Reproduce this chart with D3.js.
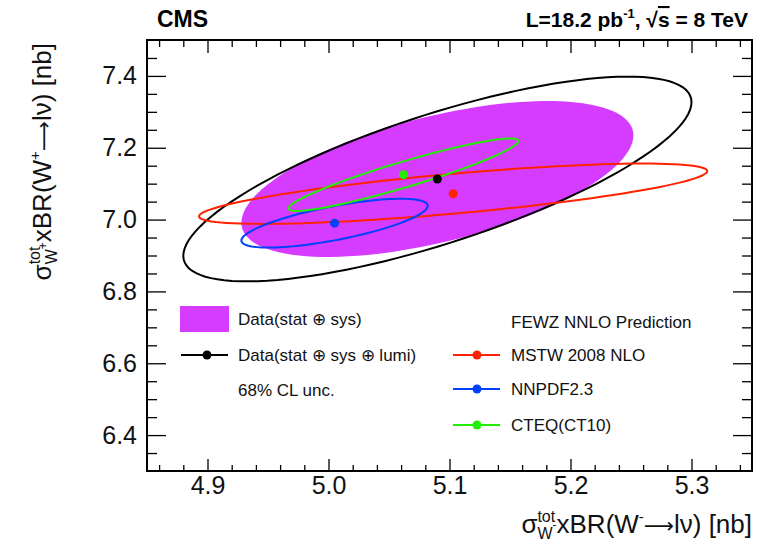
<!DOCTYPE html>
<html>
<head>
<meta charset="utf-8">
<script src="https://cdn.jsdelivr.net/npm/d3@7"></script>
<style>
  body { margin: 0; background: #fff; }
  svg { font-family: "Liberation Sans", Arial, Helvetica, sans-serif; }
</style>
</head>
<body>
<svg id="chart" width="762" height="548"></svg>
<script>
// W+ vs W- cross sections with 68% CL ellipses

// axis ticks
var xMajor = [4.9, 5.0, 5.1, 5.2, 5.3];
var xMinor = [4.86, 4.88, 4.92, 4.94, 4.96, 4.98, 5.02, 5.04, 5.06, 5.08, 5.12, 5.14, 5.16, 5.18,
              5.22, 5.24, 5.26, 5.28, 5.32, 5.34];
var yMajor = [6.4, 6.6, 6.8, 7.0, 7.2, 7.4];
var yMinor = [6.35, 6.45, 6.5, 6.55, 6.65, 6.7, 6.75, 6.85, 6.9, 6.95, 7.05, 7.1, 7.15,
              7.25, 7.3, 7.35, 7.45];

// measurement: centre, sigma(W-), sigma(W+), correlation
var dataCentre = [5.09, 7.113];
var dataSys = [0.162, 0.217, 0.56];      // stat + sys
var dataLumi = [0.210, 0.285, 0.75];     // stat + sys + lumi

// predictions
var models = ["MSTW 2008 NLO", "NNPDF2.3", "CTEQ(CT10)"];
var modelWm = [5.103, 5.005, 5.062];
var modelWp = [7.072, 6.990, 7.125];
var modelSigWm = [0.210, 0.077, 0.095];
var modelSigWp = [0.084, 0.068, 0.101];
var modelRho = [0.75, 0.71, 0.93];
var modelColors = ["#ff2200", "#0040ff", "#22ee00"];

var svg = d3.select("#chart");
var pLeft = 147, pRight = 752, pTop = 40, pBottom = 471;

var x = d3.scaleLinear().domain([4.85, 5.35]).range([pLeft, pRight]);
var y = d3.scaleLinear().domain([6.3, 7.5]).range([pBottom, pTop]);

// ellipse outline in data units from centre, sigmas and correlation
function ellipse(cx, cy, sx, sy, rho) {
	var pts = [];
	for (var i = 0; i < 120; i++) {
		var t = 2 * Math.PI * i / 120;
		pts.push([cx + sx * Math.cos(t),
		          cy + sy * (rho * Math.cos(t) + Math.sqrt(1 - rho * rho) * Math.sin(t))]);
	}
	return pts;
}
var line = d3.line()
	.x(function(d) { return x(d[0]); })
	.y(function(d) { return y(d[1]); })
	.curve(d3.curveLinearClosed);

svg.append("clipPath").attr("id", "clip")
  .append("rect")
	.attr("x", pLeft).attr("y", pTop)
	.attr("width", pRight - pLeft).attr("height", pBottom - pTop);

var plot = svg.append("g").attr("clip-path", "url(#clip)");

// filled stat+sys ellipse
plot.append("path")
	.attr("d", line(ellipse(dataCentre[0], dataCentre[1], dataSys[0], dataSys[1], dataSys[2])))
	.attr("fill", "#d63cff")
	.attr("stroke", "none");

// stat+sys+lumi ellipse
plot.append("path")
	.attr("d", line(ellipse(dataCentre[0], dataCentre[1], dataLumi[0], dataLumi[1], dataLumi[2])))
	.attr("fill", "none")
	.attr("stroke", "#000")
	.attr("stroke-width", 2);

// prediction ellipses
models.forEach(function(m, i) {
	plot.append("path")
		.attr("d", line(ellipse(modelWm[i], modelWp[i], modelSigWm[i], modelSigWp[i], modelRho[i])))
		.attr("fill", "none")
		.attr("stroke", modelColors[i])
		.attr("stroke-width", 2);
});

// central points
plot.append("circle")
	.attr("cx", x(dataCentre[0])).attr("cy", y(dataCentre[1]))
	.attr("r", 4.5).attr("fill", "#000");
models.forEach(function(m, i) {
	plot.append("circle")
		.attr("cx", x(modelWm[i])).attr("cy", y(modelWp[i]))
		.attr("r", 4.5).attr("fill", modelColors[i]);
});

// axes, ticks pointing inwards on all four sides
function styleAxis(g) {
	g.select(".domain").remove();
	g.selectAll("line").attr("stroke", "#000").attr("stroke-width", 1.3);
	g.selectAll("text").attr("font-size", 25).attr("fill", "#111");
}
svg.append("g")
	.attr("transform", "translate(0," + pBottom + ")")
	.call(d3.axisBottom(x).tickValues(xMajor).tickFormat(d3.format(".1f")).tickSize(-12).tickPadding(5))
	.call(styleAxis);
svg.append("g")
	.attr("transform", "translate(0," + pBottom + ")")
	.call(d3.axisBottom(x).tickValues(xMinor).tickFormat("").tickSize(-6))
	.call(styleAxis);
svg.append("g")
	.attr("transform", "translate(0," + pTop + ")")
	.call(d3.axisTop(x).tickValues(xMajor).tickFormat("").tickSize(-13))
	.call(styleAxis);
svg.append("g")
	.attr("transform", "translate(0," + pTop + ")")
	.call(d3.axisTop(x).tickValues(xMinor).tickFormat("").tickSize(-7))
	.call(styleAxis);
svg.append("g")
	.attr("transform", "translate(" + pLeft + ",0)")
	.call(d3.axisLeft(y).tickValues(yMajor).tickFormat(d3.format(".1f")).tickSize(-19).tickPadding(10))
	.call(styleAxis);
svg.append("g")
	.attr("transform", "translate(" + pLeft + ",0)")
	.call(d3.axisLeft(y).tickValues(yMinor).tickFormat("").tickSize(-10))
	.call(styleAxis);
svg.append("g")
	.attr("transform", "translate(" + pRight + ",0)")
	.call(d3.axisRight(y).tickValues(yMajor).tickFormat("").tickSize(-19))
	.call(styleAxis);
svg.append("g")
	.attr("transform", "translate(" + pRight + ",0)")
	.call(d3.axisRight(y).tickValues(yMinor).tickFormat("").tickSize(-10))
	.call(styleAxis);

// frame
svg.append("rect")
	.attr("x", pLeft).attr("y", pTop)
	.attr("width", pRight - pLeft).attr("height", pBottom - pTop)
	.attr("fill", "none").attr("stroke", "#000").attr("stroke-width", 2);

// header
svg.append("text")
	.attr("x", 157).attr("y", 27)
	.attr("font-size", 23).attr("font-weight", "bold")
	.text("CMS");
var lumi = svg.append("text")
	.attr("x", 748).attr("y", 27)
	.attr("text-anchor", "end")
	.attr("font-size", 21).attr("font-weight", "bold");
lumi.append("tspan").text("L=18.2 pb");
lumi.append("tspan").attr("font-size", 13).attr("dy", -9).text("-1");
lumi.append("tspan").attr("dy", 9).text(", \u221a");
lumi.append("tspan").attr("text-decoration", "overline").text("s");
lumi.append("tspan").text(" = 8 TeV");

// axis title: sigma^tot_{W^sign} x BR(W^sign -> l nu) [nb]
function axisTitle(g, sign) {
	var t = g.append("text").attr("font-size", 26).attr("fill", "#111");
	t.append("tspan").text("\u03c3");
	var tot = t.append("tspan").attr("font-size", 16).attr("dy", -11).text("tot");
	var w = tot.node().getComputedTextLength();
	var sub = t.append("tspan").attr("font-size", 16).attr("dx", -w).attr("dy", 17).text("W");
	var ws = sub.node().getComputedTextLength();
	var s1 = t.append("tspan").attr("font-size", 12).attr("dy", -10).text(sign);
	var w1 = s1.node().getComputedTextLength();
	t.append("tspan").attr("dx", Math.max(0, w - ws - w1)).attr("dy", 4).text("xBR(W");
	t.append("tspan").attr("font-size", 15).attr("dy", -11).text(sign);
	t.append("tspan").attr("dy", 11).attr("font-family", "DejaVu Sans").attr("font-size", 21)
		.text("\u27f6");
	t.append("tspan").text("l\u03bd) [nb]");
	return t;
}
var xt = axisTitle(svg.append("g"), "-");
var xw = xt.node().getBBox().width;
xt.attr("transform", "translate(" + (752 - xw) + ",533)");

var yt = axisTitle(svg.append("g"), "+");
var yw = yt.node().getBBox().width;
yt.attr("transform", "translate(51," + (43 + yw) + ") rotate(-90)");

// legend
var leg = svg.append("g").attr("font-size", 17).attr("fill", "#111");
leg.append("rect")
	.attr("x", 180).attr("y", 306).attr("width", 49).attr("height", 26)
	.attr("fill", "#d63cff");
leg.append("text").attr("x", 238).attr("y", 319).attr("dy", "0.35em")
	.text("Data(stat \u2295 sys)");
leg.append("line")
	.attr("x1", 181).attr("x2", 228).attr("y1", 355).attr("y2", 355)
	.attr("stroke", "#000").attr("stroke-width", 2);
leg.append("circle").attr("cx", 207).attr("cy", 355).attr("r", 4.5).attr("fill", "#000");
leg.append("text").attr("x", 238).attr("y", 355).attr("dy", "0.35em")
	.text("Data(stat \u2295 sys \u2295 lumi)");
leg.append("text").attr("x", 238).attr("y", 390).attr("dy", "0.35em")
	.text("68% CL unc.");

leg.append("text").attr("x", 511).attr("y", 322).attr("dy", "0.35em")
	.text("FEWZ NNLO Prediction");
models.forEach(function(m, i) {
	var ly = [355, 389, 425][i];
	leg.append("line")
		.attr("x1", 453).attr("x2", 500).attr("y1", ly).attr("y2", ly)
		.attr("stroke", modelColors[i]).attr("stroke-width", 2);
	leg.append("circle").attr("cx", 477).attr("cy", ly).attr("r", 4.5).attr("fill", modelColors[i]);
	leg.append("text").attr("x", 511).attr("y", ly).attr("dy", "0.35em").text(m);
});
</script>
</body>
</html>
